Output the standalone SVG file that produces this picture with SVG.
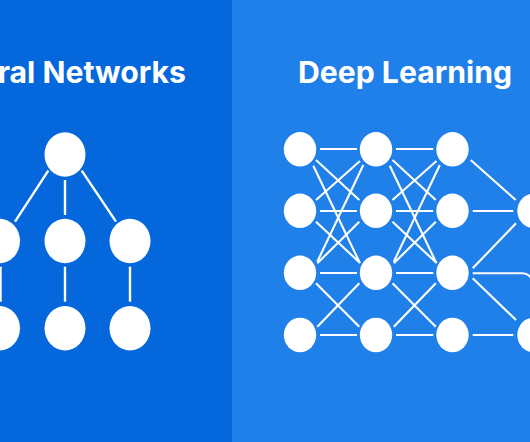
<svg xmlns="http://www.w3.org/2000/svg" width="530" height="442" viewBox="0 0 530 442">
<style>
.title{font-family:Inter,"Liberation Sans",sans-serif;font-weight:700;font-size:30.2px;fill:#fff}
.node{fill:#fff}
.ln{stroke:#fff;stroke-width:2.4;fill:none;stroke-linecap:butt}
.rn{stroke:#fff;stroke-width:2.1;fill:none;stroke-linecap:butt}
</style>
<rect x="0" y="0" width="232" height="442" fill="#0467DC"/>
<rect x="232" y="0" width="298" height="442" fill="#1F80E9"/>
<text class="title" x="186" y="82.5" text-anchor="end">Neural Networks</text>
<text class="title" x="405" y="82.5" text-anchor="middle">Deep Learning</text>
<g id="connectors">
<g id="nn-edges">
<line class="ln" x1="48.3" y1="170.7" x2="15" y2="221.7"/>
<line class="ln" x1="65" y1="180" x2="65" y2="215"/>
<line class="ln" x1="81.7" y1="170.7" x2="116" y2="221.7"/>
<line class="ln" x1="0.5" y1="266.7" x2="0.5" y2="301.7"/>
<line class="ln" x1="65" y1="266.7" x2="65" y2="301.7"/>
<line class="ln" x1="130" y1="266.7" x2="130" y2="301.7"/>
</g>
<g id="dl-edges">
<line class="rn" x1="320" y1="149" x2="357" y2="149"/>
<line class="rn" x1="320" y1="211" x2="357" y2="211"/>
<line class="rn" x1="320" y1="273" x2="357" y2="273"/>
<line class="rn" x1="320" y1="335" x2="357" y2="335"/>
<line class="rn" x1="316" y1="160" x2="359.3" y2="200"/>
<line class="rn" x1="360" y1="161" x2="316" y2="200"/>
<line class="rn" x1="313.3" y1="165.7" x2="360" y2="263.3"/>
<line class="rn" x1="363.3" y1="165" x2="317.3" y2="261.7"/>
<line class="rn" x1="316" y1="221.7" x2="359.3" y2="262.3"/>
<line class="rn" x1="359.3" y1="221.7" x2="317.3" y2="263.3"/>
<line class="rn" x1="316" y1="283.3" x2="359.3" y2="326.7"/>
<line class="rn" x1="317.3" y1="326.7" x2="359.3" y2="283.3"/>
<line class="rn" x1="396" y1="149" x2="433.3" y2="149"/>
<line class="rn" x1="396" y1="211" x2="433.3" y2="211"/>
<line class="rn" x1="396" y1="273" x2="433.3" y2="273"/>
<line class="rn" x1="396" y1="335" x2="433.3" y2="335"/>
<line class="rn" x1="392.5" y1="160" x2="435.8" y2="200"/>
<line class="rn" x1="436.5" y1="161" x2="392.5" y2="200"/>
<line class="rn" x1="389.8" y1="165.7" x2="436.5" y2="263.3"/>
<line class="rn" x1="439.8" y1="165" x2="393.8" y2="261.7"/>
<line class="rn" x1="392.5" y1="221.7" x2="435.8" y2="262.3"/>
<line class="rn" x1="435.8" y1="221.7" x2="393.8" y2="263.3"/>
<line class="rn" x1="392.5" y1="283.3" x2="435.8" y2="326.7"/>
<line class="rn" x1="393.8" y1="326.7" x2="435.8" y2="283.3"/>
<line class="rn" x1="470.7" y1="160" x2="515.7" y2="200"/>
<line class="rn" x1="472.7" y1="211" x2="513.3" y2="211"/>
<line class="rn" x1="472.7" y1="268.3" x2="516" y2="223.3"/>
<path class="rn" d="M472.7,273.3 H522 Q528,273.3 531,278"/>
<line class="rn" x1="472.7" y1="278.3" x2="516" y2="320"/>
<line class="rn" x1="472.7" y1="335" x2="513.3" y2="335"/>
</g>
</g>
<g id="nn-n1"><ellipse class="node" cx="65" cy="154.5" rx="20.5" ry="22.2"/></g>
<g id="nn-n2"><ellipse class="node" cx="-0.5" cy="241" rx="20.5" ry="22.2"/></g>
<g id="nn-n3"><ellipse class="node" cx="65" cy="241" rx="20.5" ry="22.2"/></g>
<g id="nn-n4"><ellipse class="node" cx="130" cy="241" rx="20.5" ry="22.2"/></g>
<g id="nn-n5"><ellipse class="node" cx="-0.5" cy="328.3" rx="20.5" ry="22.2"/></g>
<g id="nn-n6"><ellipse class="node" cx="65" cy="328.3" rx="20.5" ry="22.2"/></g>
<g id="nn-n7"><ellipse class="node" cx="130" cy="328.3" rx="20.5" ry="22.2"/></g>
<g id="dl-c1r1"><ellipse class="node" cx="300" cy="149.3" rx="16.2" ry="17.2"/></g>
<g id="dl-c1r2"><ellipse class="node" cx="300" cy="210.8" rx="16.2" ry="17.2"/></g>
<g id="dl-c1r3"><ellipse class="node" cx="300" cy="272.8" rx="16.2" ry="17.2"/></g>
<g id="dl-c1r4"><ellipse class="node" cx="300" cy="335" rx="16.2" ry="17.2"/></g>
<g id="dl-c2r1"><ellipse class="node" cx="376" cy="149.3" rx="16.2" ry="17.2"/></g>
<g id="dl-c2r2"><ellipse class="node" cx="376" cy="210.8" rx="16.2" ry="17.2"/></g>
<g id="dl-c2r3"><ellipse class="node" cx="376" cy="272.8" rx="16.2" ry="17.2"/></g>
<g id="dl-c2r4"><ellipse class="node" cx="376" cy="335" rx="16.2" ry="17.2"/></g>
<g id="dl-c3r1"><ellipse class="node" cx="452.5" cy="149.3" rx="16.2" ry="17.2"/></g>
<g id="dl-c3r2"><ellipse class="node" cx="452.5" cy="210.8" rx="16.2" ry="17.2"/></g>
<g id="dl-c3r3"><ellipse class="node" cx="452.5" cy="272.8" rx="16.2" ry="17.2"/></g>
<g id="dl-c3r4"><ellipse class="node" cx="452.5" cy="335" rx="16.2" ry="17.2"/></g>
<g id="dl-c4r2"><ellipse class="node" cx="533.5" cy="210.8" rx="16.2" ry="17.2"/></g>
<g id="dl-c4r4"><ellipse class="node" cx="533.5" cy="335" rx="16.2" ry="17.2"/></g>
</svg>
